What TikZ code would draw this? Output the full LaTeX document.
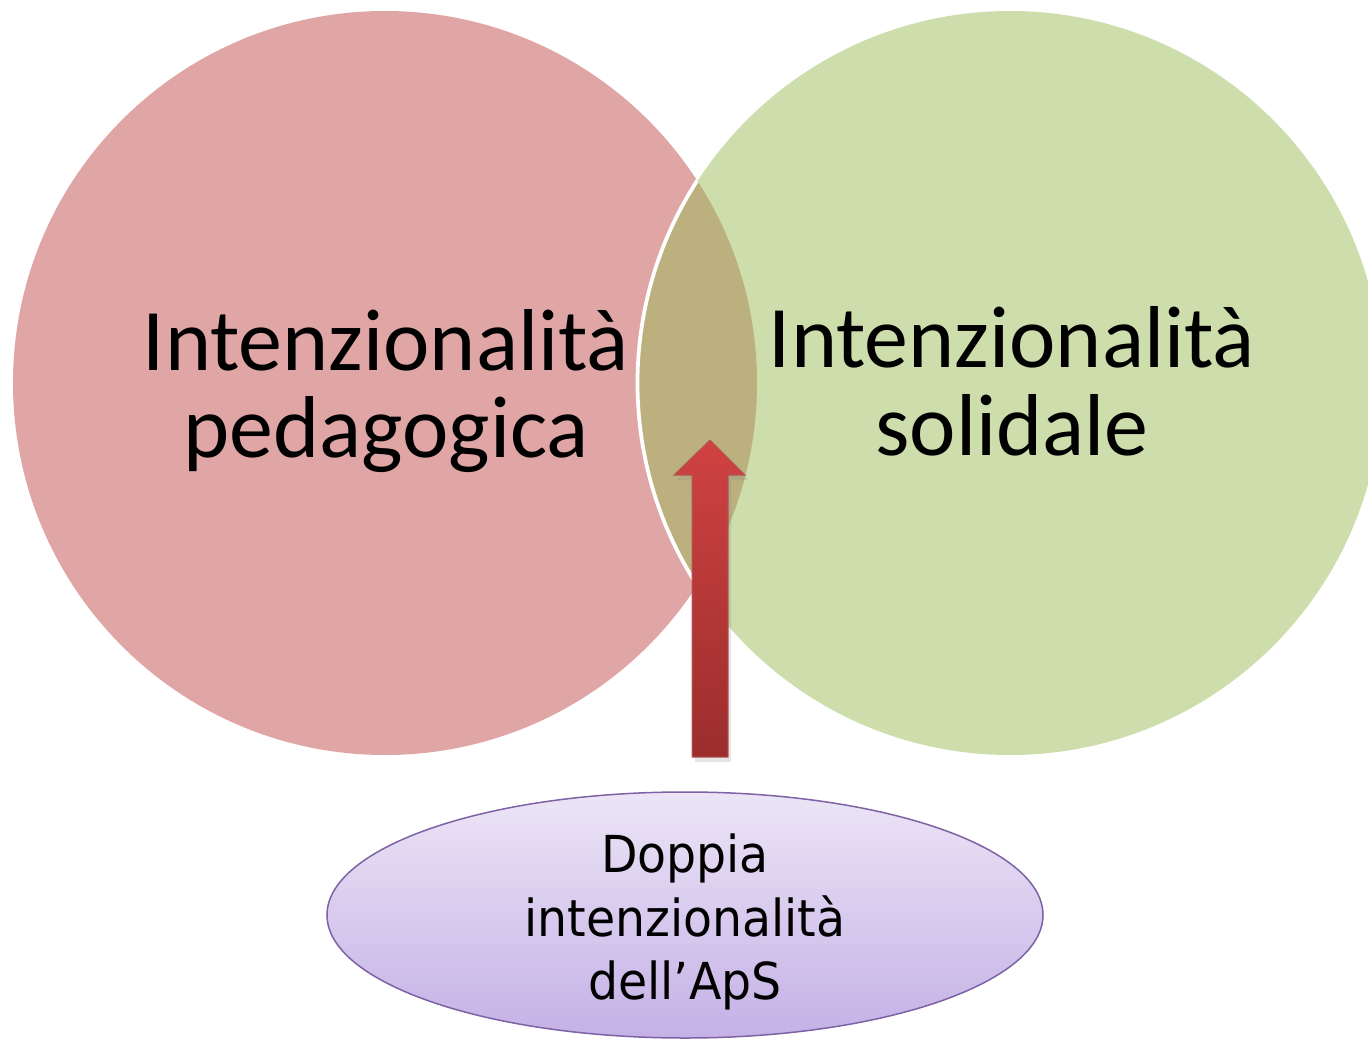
\documentclass[tikz,border=0pt]{standalone}
\usepackage{fontspec}
\setmainfont{Carlito}
\newfontfamily\ellfont[FakeStretch=0.93]{DejaVu Sans}
\usepackage{xcolor}
\usepackage{tikz}
\usetikzlibrary{shapes.geometric,shadows}

\definecolor{pedagfill}{HTML}{E0A6A6}
\definecolor{solidfill}{HTML}{CDDDAC}
\definecolor{lensfill}{HTML}{BCB07F}
\definecolor{arrowtop}{HTML}{D04242}
\definecolor{arrowbot}{HTML}{9C2D2D}
\definecolor{elltop}{HTML}{ECE5F6}
\definecolor{ellbot}{HTML}{C4B1E6}
\definecolor{elldraw}{HTML}{7E62A5}

\tikzset{
  bubble/.style={circle, minimum size=148.8mm, inner sep=0pt, outer sep=0pt},
  bubbletext/.style={align=center, inner sep=0pt, font=\fontsize{50}{50}\selectfont},
}

\begin{document}
\begin{tikzpicture}[x=0.2mm, y=-0.2mm]
\useasboundingbox (0,0) rectangle (1368,1039);
% --- Circles ---
\node[bubble, fill=pedagfill] (pedag) at (385,383) {};
\node[bubble, fill=solidfill] (solid) at (1010,383) {};
\begin{scope}
\clip (pedag.center) circle (74.4mm);
\fill[lensfill] (solid.center) circle (74.5mm);
\draw[white, line width=0.75mm] (solid.center) circle (74.5mm);
\end{scope}
\node[bubbletext] (pedagtxt) at (386,391) {Intenzionalità\\pedagogica};
\node[bubbletext] (solidtxt) at (1012,381) {Intenzionalità\\solidale};
% --- Arrow ---
\coordinate (tip) at (710,440);
\shade[top color=arrowtop, bottom color=arrowbot, draw=arrowbot!80, line width=0.2mm,
  drop shadow={opacity=0.2, shadow xshift=0.6mm, shadow yshift=-1mm}]
  (tip) -- (745,475) -- (728,475) -- (728,757) -- (692,757) -- (692,475) -- (674,475) -- cycle;
% --- Ellipse ---
\node[ellipse, minimum width=143.2mm, minimum height=49.2mm, inner sep=0pt,
  draw=elldraw, line width=0.3mm, top color=elltop, bottom color=ellbot] (doppia) at (685,915) {};
\node[align=center, inner sep=0pt, font=\ellfont\fontsize{29}{36}\selectfont]
  (doppiatxt) at (685,922) {Doppia\\intenzionalità\\dell’ApS};
\end{tikzpicture}
\end{document}
